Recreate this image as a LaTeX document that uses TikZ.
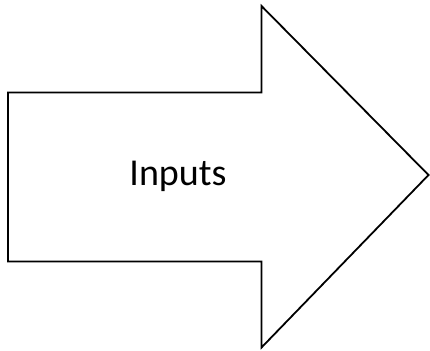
\documentclass[tikz,border=0pt]{standalone}
\usepackage{fontspec}
\setmainfont{Carlito}
\begin{document}
\begin{tikzpicture}[x=1pt,y=-1pt,
  arrowbody/.style={draw=black,line width=1.8pt,fill=white,line join=miter},
  lbl/.style={font=\fontsize{38}{44}\selectfont,inner sep=0pt,anchor=base}]
\useasboundingbox (0,0) rectangle (430,350);
\draw[arrowbody] (8,92.5) -- (261.5,92.5) -- (261.5,6) -- (428.5,175) -- (261.5,347.5) -- (261.5,261.5) -- (8,261.5) -- cycle;
\node[lbl] (inputs) at (178,185.5) {Inputs};
\end{tikzpicture}
\end{document}
